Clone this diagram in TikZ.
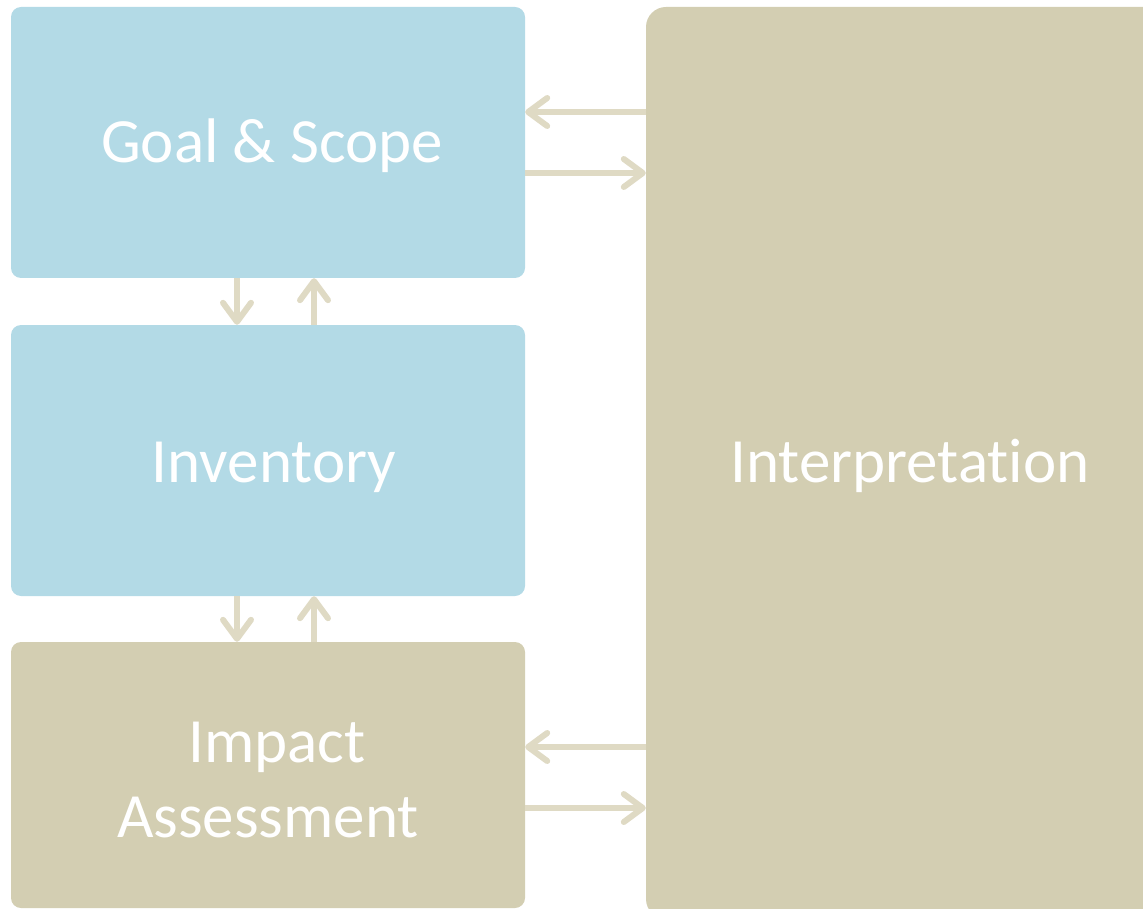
\documentclass[tikz,border=0pt]{standalone}
\usepackage{fontspec}
\setmainfont{Carlito}[RawFeature=-liga]
\usetikzlibrary{arrows.meta}
\definecolor{boxblue}{HTML}{B3DAE6}
\definecolor{boxtan}{HTML}{D3CEB2}
\definecolor{arrowtan}{HTML}{DFDAC4}
\tikzset{
  box/.style={draw=none, rounded corners=10pt, inner sep=0pt},
  lbl/.style={inner sep=0pt, anchor=base, text=white,
    font=\fontsize{63}{75}\selectfont},
  arr/.style={draw=arrowtan, line width=6pt,
    -{Straight Barb[round, length=19pt, width=28pt, line width=6pt]}},
}
\begin{document}
\begin{tikzpicture}[x=1pt, y=-1pt]
\useasboundingbox (0,0) rectangle (1143,909);
\clip (0,0) rectangle (1143,909);
\node[box, fill=boxblue, minimum width=514pt, minimum height=271pt] (goal) at (268,142.5) {};
\node[box, fill=boxblue, minimum width=514pt, minimum height=271pt] (inv) at (268,460.5) {};
\node[box, fill=boxtan, minimum width=514pt, minimum height=266pt] (imp) at (268,775) {};
\node[box, fill=boxtan, rounded corners=20pt, minimum width=528pt, minimum height=912pt] (interp) at (910,463) {};
% labels
\node[lbl] (goaltxt) at (272,163) {Goal \& Scope};
\node[lbl] (invtxt) at (274,482) {Inventory};
\node[lbl] (interptxt) at (910,482) {Interpretation};
\node[lbl] (imptxt) at (268,762) {\begin{tabular}[t]{@{}c@{}}\hspace*{18pt}Impact\\Assessment\end{tabular}};
% horizontal arrows
\draw[arr] (interp.west |- 0,112) -- (goal.east |- 0,112);
\draw[arr] (goal.east |- 0,173) -- (interp.west |- 0,173);
\draw[arr] (interp.west |- 0,747) -- (imp.east |- 0,747);
\draw[arr] (imp.east |- 0,808) -- (interp.west |- 0,808);
% vertical arrows
\draw[arr] (goal.south -| 237,0) -- (inv.north -| 237,0);
\draw[arr] (inv.north -| 314,0) -- (goal.south -| 314,0);
\draw[arr] (inv.south -| 237,0) -- (imp.north -| 237,0);
\draw[arr] (imp.north -| 314,0) -- (inv.south -| 314,0);
\end{tikzpicture}
\end{document}
